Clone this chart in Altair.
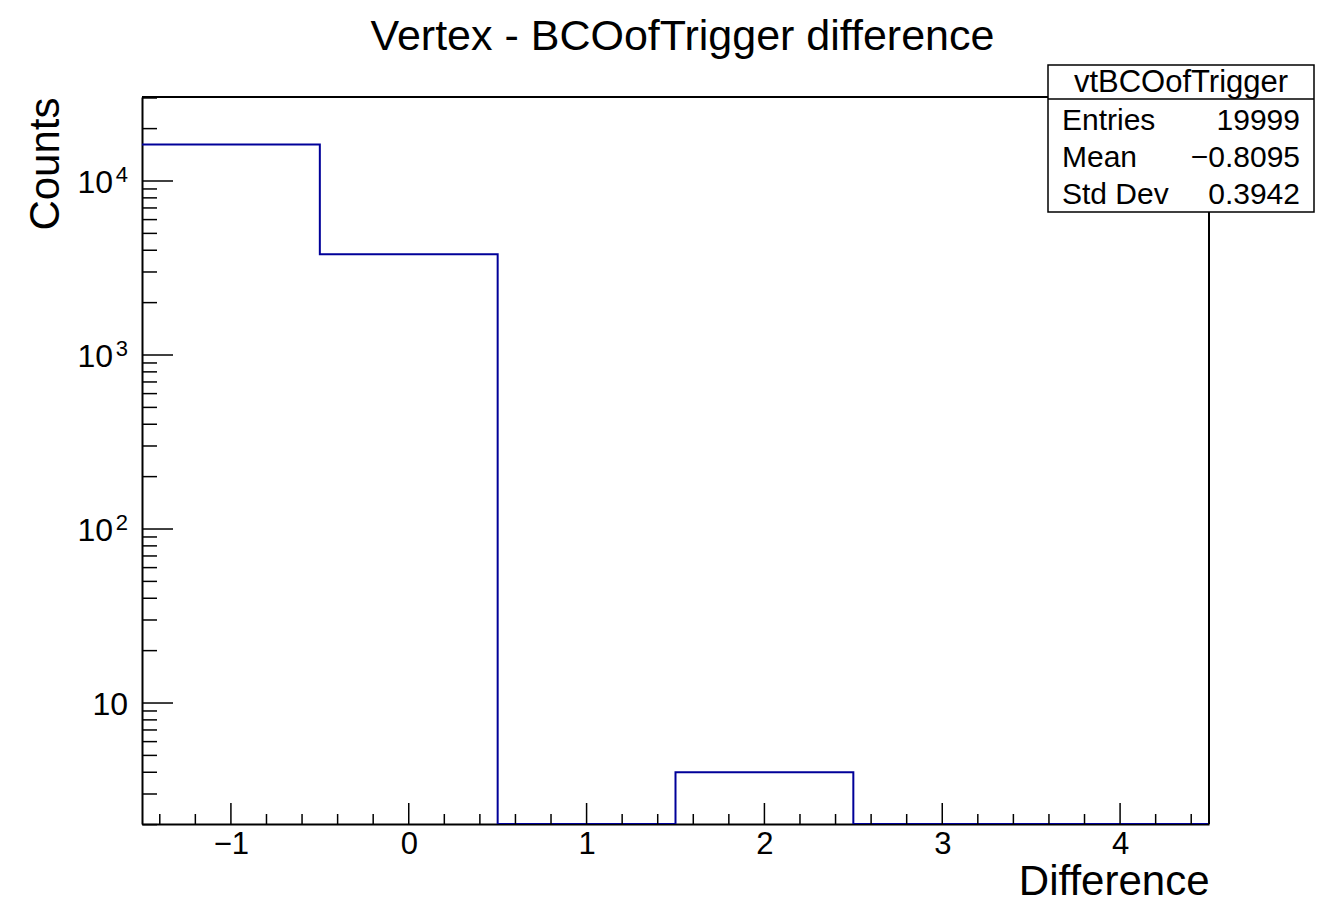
import altair as alt
import pandas as pd

# ---- data ----
bin_edges = [-1.5, -0.5, 0.5, 1.5, 2.5, 3.5, 4.5]
bin_counts = [16197, 3798, 0, 4, 0, 0]

x_major = [-1, 0, 1, 2, 3, 4]
x_minor = [-1.4, -1.2, -0.8, -0.6, -0.4, -0.2, 0.2, 0.4, 0.6, 0.8,
           1.2, 1.4, 1.6, 1.8, 2.2, 2.4, 2.6, 2.8, 3.2, 3.4, 3.6, 3.8, 4.2, 4.4]
y_major = [10, 100, 1000, 10000]
y_exponent = ["", "2", "3", "4"]
y_minor = [2, 3, 4, 5, 6, 7, 8, 9, 20, 30, 40, 50, 60, 70, 80, 90,
           200, 300, 400, 500, 600, 700, 800, 900,
           2000, 3000, 4000, 5000, 6000, 7000, 8000, 9000, 20000, 30000]

stats_title = "vtBCOofTrigger"
stats_labels = ["Entries", "Mean", "Std Dev"]
stats_values = ["19999", "\u22120.8095", "0.3942"]

title_text = "Vertex - BCOofTrigger difference"
x_title = "Difference"
y_title = "Counts"

# ---- layout ----
W, H = 1067, 727
FONT = "Liberation Sans"
Y_MIN, Y_MAX = 2.017, 30390
BLUE = "#000099"
LBL = 32

xs = alt.Scale(domain=[-1.5, 4.5], nice=False, zero=False)
ys = alt.Scale(type="log", domain=[Y_MIN, Y_MAX], nice=False)

x_axis = alt.Axis(
    values=x_major, format="d", ticks=False, grid=False,
    labelFontSize=31, labelPadding=5, labelFont=FONT, labelColor="black",
    domainColor="black", domainWidth=2,
    title=x_title, titleFont=FONT, titleFontSize=42, titleFontWeight="normal",
    titleColor="black", titleAnchor="end", titleAlign="right",
    titleBaseline="alphabetic", titleX=W, titleY=70,
)
y_axis = alt.Axis(
    values=y_major, ticks=False, grid=False, labels=False,
    domainColor="black", domainWidth=2,
    title=y_title, titleFont=FONT, titleFontSize=42, titleFontWeight="normal",
    titleColor="black", titleAngle=270, titleAlign="right",
    titleBaseline="alphabetic", titleX=-84, titleY=0,
)

step_df = pd.DataFrame({
    "x": bin_edges,
    "count": bin_counts + [bin_counts[-1]],
})

hist = alt.Chart(step_df).transform_calculate(
    y=f"max(datum.count, {Y_MIN})"
).mark_line(
    interpolate="step-after", color=BLUE, strokeWidth=2, clip=True
).encode(
    x=alt.X("x:Q", scale=xs, axis=x_axis),
    y=alt.Y("y:Q", scale=ys, axis=y_axis),
)

def vticks(vals, length):
    return alt.Chart(pd.DataFrame({"x": vals})).mark_rule(
        color="black", strokeWidth=1.5
    ).encode(
        x=alt.X("x:Q", scale=xs, axis=x_axis),
        y=alt.value(H), y2=alt.value(H - length),
    )

def hticks(vals, length):
    return alt.Chart(pd.DataFrame({"y": vals})).mark_rule(
        color="black", strokeWidth=1.5
    ).encode(
        y=alt.Y("y:Q", scale=ys, axis=y_axis),
        x=alt.value(0), x2=alt.value(length),
    )

# y tick labels: "10" with a raised exponent
ylab_df = pd.DataFrame({"y": y_major, "exp": y_exponent, "base": ["10"] * len(y_major)})
ylab_plain = alt.Chart(ylab_df).transform_filter("datum.exp == ''").mark_text(
    font=FONT, fontSize=LBL, color="black", align="right", baseline="alphabetic", dy=12
).encode(y=alt.Y("y:Q", scale=ys, axis=y_axis), x=alt.value(-14), text="base:N")
ylab_base = alt.Chart(ylab_df).transform_filter("datum.exp != ''").mark_text(
    font=FONT, fontSize=LBL, color="black", align="right", baseline="alphabetic", dy=12
).encode(y=alt.Y("y:Q", scale=ys, axis=y_axis), x=alt.value(-29), text="base:N")
ylab_sup = alt.Chart(ylab_df).transform_filter("datum.exp != ''").mark_text(
    font=FONT, fontSize=22, color="black", align="right", baseline="alphabetic", dy=1
).encode(y=alt.Y("y:Q", scale=ys, axis=y_axis), x=alt.value(-14), text="exp:N")

one = pd.DataFrame({"k": [0]})
frame_top = alt.Chart(one).mark_rule(color="black", strokeWidth=2).encode(
    x=alt.value(0), x2=alt.value(W), y=alt.value(0))
frame_right = alt.Chart(one).mark_rule(color="black", strokeWidth=2).encode(
    x=alt.value(W), y=alt.value(0), y2=alt.value(H))

BX0, BX1, BY0, BY1 = 906, 1172, -32, 115
box = alt.Chart(one).mark_rect(fill="white", stroke="black", strokeWidth=1.5).encode(
    x=alt.value(BX0), x2=alt.value(BX1), y=alt.value(BY0), y2=alt.value(BY1))
box_sep = alt.Chart(one).mark_rule(color="black", strokeWidth=1.5).encode(
    x=alt.value(BX0), x2=alt.value(BX1), y=alt.value(2))

head = alt.Chart(pd.DataFrame({"t": [stats_title]})).mark_text(
    font=FONT, fontSize=31, color="black", align="center", baseline="middle"
).encode(text="t:N", x=alt.value((BX0 + BX1) / 2), y=alt.value(-14))

main_title = alt.Chart(pd.DataFrame({"t": [title_text]})).mark_text(
    font=FONT, fontSize=43, color="black", align="center", baseline="alphabetic"
).encode(text="t:N", x=alt.value(W / 2 + 7), y=alt.value(-47))

row_y = [24, 61, 98]
rows = []
for i in range(3):
    d = pd.DataFrame({"l": [stats_labels[i]], "v": [stats_values[i]]})
    rows.append(alt.Chart(d).mark_text(
        font=FONT, fontSize=30, color="black", align="left", baseline="middle"
    ).encode(text="l:N", x=alt.value(BX0 + 14), y=alt.value(row_y[i])))
    rows.append(alt.Chart(d).mark_text(
        font=FONT, fontSize=30, color="black", align="right", baseline="middle"
    ).encode(text="v:N", x=alt.value(BX1 - 14), y=alt.value(row_y[i])))

chart = alt.layer(
    hist,
    vticks(x_major, 21), vticks(x_minor, 10),
    hticks(y_major, 31), hticks(y_minor, 15),
    ylab_plain, ylab_base, ylab_sup,
    frame_top, frame_right,
    box, box_sep, head, main_title, *rows,
).properties(
    width=W, height=H,
    padding={"left": 134, "top": 89, "right": 108, "bottom": 79},
    autosize=alt.AutoSizeParams(type="none"),
).configure_view(stroke=None).configure(background="white")

chart.save("out.html", embed_options={"renderer": "svg", "actions": False})
